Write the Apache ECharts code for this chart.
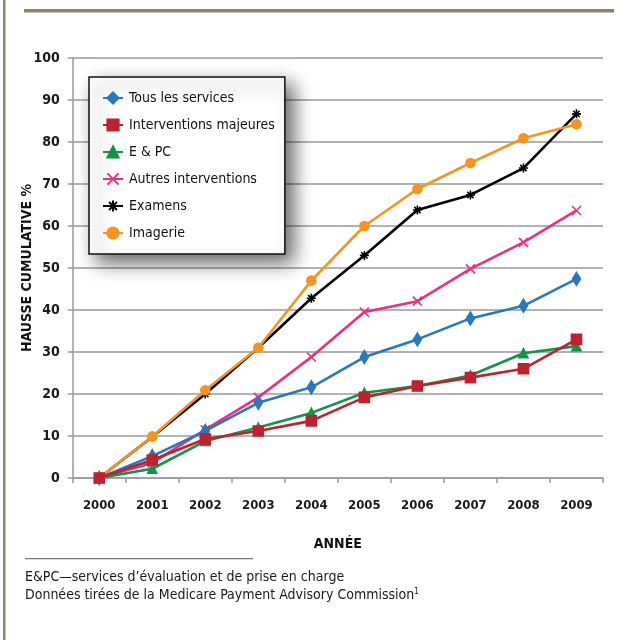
<!DOCTYPE html>
<html>
<head>
<meta charset="utf-8">
<script src="https://cdn.jsdelivr.net/npm/echarts@6/dist/echarts.min.js"></script>
<style>
  html, body { margin: 0; padding: 0; background: #fff; }
  #chart { width: 630px; height: 640px; }
</style>
</head>
<body>
<div id="chart"></div>
<script>
// Years on the category axis
const years = ['2000', '2001', '2002', '2003', '2004', '2005', '2006', '2007', '2008', '2009'];

// Cumulative increase (%) per service group
const tousLesServices       = [0, 5.2, 11.2, 17.9, 21.6, 28.8, 33.0, 38.0, 41.0, 47.4];
const interventionsMajeures = [0, 4.3, 9.3, 11.2, 13.6, 19.2, 21.9, 23.9, 26.0, 33.0];
const eEtPC                 = [0, 2.2, 8.8, 12.0, 15.5, 20.3, 21.9, 24.4, 29.7, 31.4];
const autresInterventions   = [0, 3.6, 11.5, 19.2, 28.8, 39.5, 42.1, 49.8, 56.1, 63.7];
const examens               = [0, 9.8, 20.0, 31.0, 42.8, 53.0, 63.8, 67.4, 73.8, 86.7];
const imagerie              = [0, 9.9, 20.9, 31.0, 47.0, 60.0, 68.8, 75.0, 80.9, 84.2];

// Y axis ticks
const yTicks = { min: 0, max: 100, step: 10 };

const FONT = "'Liberation Sans Narrow', 'DejaVu Sans Condensed', 'Noto Sans', sans-serif";
const GRID_COLOR = '#9a9a9a';
const FRAME_COLOR = '#8c8372';

const chart = echarts.init(document.getElementById('chart'), null, { renderer: 'canvas' });

function lineSeries(name, data, color, symbol, size, z) {
  return {
    name: name,
    type: 'line',
    data: data,
    z: z,
    symbol: symbol,
    symbolSize: size,
    showSymbol: true,
    lineStyle: { color: color, width: 2.6 },
    itemStyle: { color: color, borderColor: color, borderWidth: 1.6 },
    emphasis: { disabled: true },
    animation: false
  };
}

const crossPath = 'path://M0,0L10,10M10,0L0,10';
const starPath = 'path://M0,5L10,5M5,0L5,10M1.5,1.5L8.5,8.5M8.5,1.5L1.5,8.5';

const legendOrder = ['Tous les services', 'Interventions majeures', 'E & PC',
                     'Autres interventions', 'Examens', 'Imagerie'];

const option = {
  backgroundColor: '#fff',
  animation: false,
  textStyle: { fontFamily: FONT },
  grid: { left: 72.7, right: 27, top: 58, bottom: 162, containLabel: false },
  legend: {
    data: legendOrder,
    orient: 'vertical',
    left: 89,
    top: 77,
    width: 196,
    padding: [14, 10, 14, 13],
    itemGap: 13,
    itemWidth: 20,
    itemHeight: 14,
    backgroundColor: '#fff',
    borderColor: '#111',
    borderWidth: 1.5,
    shadowColor: 'rgba(0,0,0,0.6)',
    shadowBlur: 18,
    shadowOffsetX: 8,
    shadowOffsetY: 8,
    textStyle: { fontFamily: FONT, fontSize: 14, color: '#111', padding: [0, 0, 0, 1] },
    selectedMode: false
  },
  xAxis: {
    type: 'category',
    data: years,
    boundaryGap: true,
    name: 'ANNÉE',
    nameLocation: 'middle',
    nameGap: 59,
    nameMoveOverlap: false,
    nameTextStyle: { fontFamily: FONT, fontSize: 14, fontWeight: 'bold', color: '#111' },
    axisLine: { show: true, lineStyle: { color: GRID_COLOR, width: 1.5 } },
    axisTick: { show: true, alignWithLabel: false, length: 5, lineStyle: { color: GRID_COLOR, width: 1.5 } },
    axisLabel: { fontFamily: FONT, fontSize: 13, fontWeight: 'bold', color: '#1a1a1a', margin: 21 },
    splitLine: { show: false }
  },
  yAxis: {
    type: 'value',
    min: yTicks.min,
    max: yTicks.max,
    interval: yTicks.step,
    name: 'HAUSSE CUMULATIVE %',
    nameLocation: 'middle',
    nameRotate: 90,
    nameGap: 38,
    nameMoveOverlap: false,
    nameTextStyle: { fontFamily: FONT, fontSize: 14, fontWeight: 'bold', color: '#111' },
    axisLine: { show: true, lineStyle: { color: GRID_COLOR, width: 1.5 } },
    axisTick: { show: true, length: 5, lineStyle: { color: GRID_COLOR, width: 1.5 } },
    axisLabel: { fontFamily: FONT, fontSize: 14, fontWeight: 'bold', color: '#1a1a1a', margin: 13 },
    splitLine: { show: true, lineStyle: { color: GRID_COLOR, width: 1.5 } }
  },
  series: [
    lineSeries('Examens', examens, '#000000', starPath, 9, 2),
    lineSeries('Imagerie', imagerie, '#f7941d', 'circle', 9, 3),
    lineSeries('Autres interventions', autresInterventions, '#ec2f7f', crossPath, 9, 4),
    lineSeries('E & PC', eEtPC, '#129447', 'triangle', 9, 5),
    lineSeries('Tous les services', tousLesServices, '#2878c0', 'diamond', [8, 13], 6),
    lineSeries('Interventions majeures', interventionsMajeures, '#c1202f', 'rect', 10, 7)
  ],
  graphic: [
    // frame: left rule and top bar
    { type: 'rect', left: 3, top: 0, shape: { width: 2.5, height: 640 }, style: { fill: FRAME_COLOR }, silent: true },
    { type: 'rect', left: 24, top: 9, shape: { width: 590, height: 3.5 }, style: { fill: FRAME_COLOR }, silent: true },
    // footnote separator
    { type: 'rect', left: 25, top: 558, shape: { width: 228, height: 1.2 }, style: { fill: '#777' }, silent: true },
    {
      type: 'text', left: 25, top: 570, silent: true,
      style: { text: 'E&PC—services d’évaluation et de prise en charge', font: '14px ' + FONT, fill: '#1a1a1a' }
    },
    {
      type: 'text', left: 25, top: 588, silent: true,
      style: {
        rich: { sup: { fontSize: 8, fontFamily: FONT, fill: '#1a1a1a', verticalAlign: 'top', padding: [0, 0, 6, 0] } },
        text: 'Données tirées de la Medicare Payment Advisory Commission{sup|1}',
        font: '14px ' + FONT, fill: '#1a1a1a'
      }
    }
  ]
};

chart.setOption(option);
</script>
</body>
</html>
